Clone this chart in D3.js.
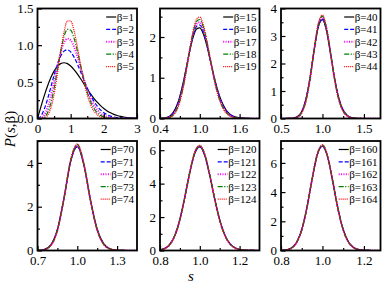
<!DOCTYPE html>
<html>
<head>
<meta charset="utf-8">
<script src="https://cdn.jsdelivr.net/npm/d3@7"></script>
<style>
body { margin: 0; background: #fff; }
svg { display: block; }
text { font-family: "Liberation Serif", "DejaVu Serif", serif; fill: #000; }
</style>
</head>
<body>
<svg id="chart" width="384" height="286"></svg>
<script>
// ---- data ----
var s1 = [0,0.1,0.2,0.3,0.4,0.5,0.6,0.7,0.8,0.9,1.0,1.1,1.2,1.3,1.4,1.5,1.6,1.7,1.8,1.9,2.0,2.1,2.2,2.3,2.4,2.5,2.6,2.7,2.8,2.9,3.0];
var beta1 = [1,2,3,4,5];
var p1 = [
	[0,0.1558,0.3044,0.4391,0.5541,0.6454,0.7103,0.7483,0.7601,0.7483,0.7162,0.6680,0.6083,0.5415,0.4718,0.4025,0.3365,0.2759,0.2220,0.1753,0.1358,0.1033,0.0772,0.0567,0.0409,0.0290,0.0202,0.0138,0.0093,0.0062,0.0040],
	[0,0.0320,0.1233,0.2602,0.4232,0.5896,0.7380,0.8514,0.9187,0.9364,0.9076,0.8406,0.7464,0.6372,0.5240,0.4160,0.3189,0.2365,0.1698,0.1181,0.0797,0.0521,0.0331,0.0204,0.0122,0.0071,0.0040,0.0022,0.0012,0.0006,0.0003],
	[0,0.0061,0.0466,0.1438,0.3013,0.5019,0.7141,0.9012,1.0320,1.0881,1.0669,0.9798,0.8472,0.6925,0.5368,0.3954,0.2775,0.1858,0.1188,0.0727,0.0425,0.0238,0.0128,0.0066,0.0033,0.0016,0.0007,0.0003,0.0001,0,0],
	[0,0.0011,0.0169,0.0766,0.2067,0.4116,0.6654,0.9185,1.1158,1.2164,1.2060,1.0978,0.9237,0.7223,0.5272,0.3605,0.2313,0.1396,0.0795,0.0426,0.0217,0.0104,0.0048,0.0020,0.0008,0.0003,0.0001,0,0,0,0],
	[0,0.0002,0.0060,0.0399,0.1386,0.3299,0.6058,0.9145,1.1783,1.3280,1.3309,1.2002,0.9826,0.7351,0.5053,0.3203,0.1878,0.1023,0.0518,0.0244,0.0108,0.0044,0.0017,0.0006,0.0002,0,0,0,0,0,0]
];

var s2 = [0.4,0.45,0.5,0.55,0.6,0.65,0.7,0.75,0.8,0.85,0.9,0.95,1.0,1.05,1.1,1.15,1.2,1.25,1.3,1.35,1.4,1.45,1.5,1.6,1.7,1.8,1.9];
var beta2 = [15,16,17,18,19];
var p2 = [
	[0.0016,0.0068,0.0228,0.0633,0.1495,0.3059,0.5509,0.8838,1.2759,1.6709,1.9983,2.1949,2.2245,2.0890,1.8239,1.4851,1.1307,0.8068,0.5407,0.3409,0.2026,0.1136,0.0602,0.0143,0.0028,0.0004,0],
	[0.0010,0.0047,0.0171,0.0509,0.1274,0.2738,0.5133,0.8510,1.2607,1.6833,2.0403,2.2586,2.2949,2.1498,1.8635,1.4995,1.1234,0.7854,0.5136,0.3147,0.1810,0.0979,0.0499,0.0108,0.0019,0.0003,0],
	[0.0006,0.0032,0.0128,0.0409,0.1084,0.2446,0.4775,0.8180,1.2434,1.6927,2.0794,2.3199,2.3633,2.2083,1.9004,1.5113,1.1140,0.7631,0.4869,0.2900,0.1615,0.0842,0.0412,0.0082,0.0013,0.0002,0],
	[0.0004,0.0022,0.0096,0.0328,0.0921,0.2182,0.4435,0.7850,1.2244,1.6994,2.1158,2.3790,2.4297,2.2648,1.9350,1.5208,1.1030,0.7403,0.4609,0.2668,0.1438,0.0724,0.0340,0.0062,0.0009,0.0001,0],
	[0.0002,0.0015,0.0072,0.0262,0.0781,0.1943,0.4113,0.7522,1.2039,1.7036,2.1497,2.4361,2.4943,2.3193,1.9673,1.5280,1.0904,0.7171,0.4356,0.2451,0.1279,0.0621,0.0280,0.0047,0.0006,0.0001,0]
];

var s3 = [0.5,0.6,0.65,0.7,0.75,0.8,0.85,0.9,0.95,1.0,1.05,1.1,1.15,1.2,1.25,1.3,1.35,1.4,1.5,1.6,1.7];
var beta3 = [40,41,42,43,44];
var p3 = [
	[0,0.0020,0.0142,0.0700,0.2545,0.7002,1.4886,2.4897,3.3255,3.5924,3.1729,2.3127,1.4024,0.7125,0.3052,0.1108,0.0343,0.0091,0.0004,0,0],
	[0,0.0017,0.0124,0.0640,0.2405,0.6789,1.4715,2.4943,3.3577,3.6365,3.2039,2.3185,1.3894,0.6946,0.2915,0.1033,0.0310,0.0080,0.0003,0,0],
	[0,0.0014,0.0109,0.0585,0.2271,0.6580,1.4541,2.4981,3.3893,3.6800,3.2343,2.3236,1.3762,0.6769,0.2783,0.0962,0.0281,0.0070,0.0003,0,0],
	[0,0.0012,0.0096,0.0534,0.2145,0.6375,1.4365,2.5012,3.4202,3.7230,3.2640,2.3281,1.3626,0.6595,0.2657,0.0896,0.0254,0.0061,0.0002,0,0],
	[0,0.0010,0.0084,0.0488,0.2025,0.6176,1.4188,2.5037,3.4504,3.7655,3.2932,2.3319,1.3489,0.6424,0.2535,0.0834,0.0230,0.0054,0.0002,0,0]
];

var s4 = [0.7,0.75,0.8,0.85,0.9,0.95,1.0,1.05,1.1,1.15,1.2,1.25,1.3,1.35,1.4,1.45];
var beta4 = [70,71,72,73,74];
var p4 = [
	[0.0044,0.0424,0.2531,0.9623,2.4064,4.0641,4.7386,3.8878,2.2814,0.9711,0.3036,0.0705,0.0123,0.0016,0.0002,0],
	[0.0040,0.0399,0.2441,0.9463,2.3984,4.0824,4.7721,3.9056,2.2753,0.9572,0.2944,0.0670,0.0114,0.0015,0.0001,0],
	[0.0036,0.0375,0.2354,0.9305,2.3902,4.1004,4.8053,3.9231,2.2691,0.9434,0.2855,0.0636,0.0105,0.0013,0.0001,0],
	[0.0033,0.0352,0.2270,0.9149,2.3819,4.1181,4.8383,3.9404,2.2626,0.9296,0.2768,0.0604,0.0098,0.0012,0.0001,0],
	[0.0030,0.0331,0.2189,0.8994,2.3733,4.1355,4.8711,3.9573,2.2560,0.9160,0.2684,0.0574,0.0091,0.0011,0.0001,0]
];

var s5 = [0.8,0.825,0.85,0.875,0.9,0.925,0.95,0.975,1.0,1.025,1.05,1.075,1.1,1.125,1.15,1.175,1.2,1.225,1.25,1.3];
var beta5 = [120,121,122,123,124];
var p5 = [
	[0.0383,0.1329,0.3832,0.9242,1.8738,3.2123,4.6780,5.8151,6.1943,5.6781,4.4942,3.0823,1.8372,0.9546,0.4336,0.1726,0.0603,0.0186,0.0050,0.0003],
	[0.0368,0.1291,0.3758,0.9129,1.8622,3.2070,4.6854,5.8355,6.2200,5.6981,4.5017,3.0781,1.8270,0.9443,0.4261,0.1683,0.0583,0.0178,0.0048,0.0002],
	[0.0354,0.1255,0.3685,0.9018,1.8505,3.2016,4.6927,5.8558,6.2455,5.7179,4.5091,3.0738,1.8168,0.9340,0.4188,0.1642,0.0564,0.0170,0.0045,0.0002],
	[0.0340,0.1220,0.3613,0.8908,1.8389,3.1962,4.6998,5.8759,6.2710,5.7376,4.5163,3.0694,1.8067,0.9238,0.4115,0.1601,0.0545,0.0163,0.0043,0.0002],
	[0.0327,0.1185,0.3542,0.8799,1.8273,3.1906,4.7068,5.8960,6.2963,5.7572,4.5234,3.0649,1.7965,0.9137,0.4044,0.1562,0.0527,0.0156,0.0041,0.0002]
];

var s6 = [0.8,0.825,0.85,0.875,0.9,0.925,0.95,0.975,1.0,1.025,1.05,1.075,1.1,1.125,1.15,1.175,1.2,1.225,1.25,1.275];
var beta6 = [160,161,162,163,164];
var p6 = [
	[0.0079,0.0415,0.1709,0.5547,1.4288,2.9426,4.8764,6.5441,7.1486,6.3925,4.7006,2.8557,1.4390,0.6039,0.2118,0.0623,0.0154,0.0032,0.0006,0],
	[0.0076,0.0403,0.1674,0.5474,1.4184,2.9348,4.8791,6.5603,7.1708,6.4084,4.7036,2.8489,1.4296,0.5968,0.2080,0.0607,0.0149,0.0031,0.0005,0],
	[0.0073,0.0391,0.1640,0.5402,1.4082,2.9269,4.8817,6.5764,7.1930,6.4242,4.7065,2.8420,1.4202,0.5897,0.2042,0.0592,0.0144,0.0030,0.0005,0],
	[0.0070,0.0380,0.1606,0.5331,1.3979,2.9190,4.8843,6.5924,7.2151,6.4399,4.7094,2.8351,1.4108,0.5827,0.2005,0.0577,0.0139,0.0028,0.0005,0],
	[0.0067,0.0369,0.1573,0.5260,1.3877,2.9111,4.8868,6.6084,7.2371,6.4556,4.7122,2.8282,1.4015,0.5757,0.1968,0.0562,0.0134,0.0027,0.0005,0]
];

// axis ranges and tick labels
var xDomains = [[0,3],[0.4,1.9],[0.5,1.7],[0.7,1.45],[0.8,1.3],[0.8,1.28]];
var yDomains = [[0,1.5],[0,2.7],[0,4],[0,5],[0,6.55],[0,7.5]];
var xTicks = [[0,1,2,3],[0.4,1.0,1.6],[0.5,1.0,1.5],[0.7,1.0,1.3],[0.8,1.0,1.2],[0.8,1.0,1.2]];
var xMinor = [[0.5,1.5,2.5],[0.7,1.3],[0.75,1.25],[0.85,1.15],[0.9,1.1],[0.9,1.1]];
var yTicks = [[0,0.5,1.0,1.5],[0,1,2],[0,1,2,3,4],[0,2,4],[0,2,4,6],[0,2,4,6]];
var yMinor = [[0.25,0.75,1.25],[0.5,1.5,2.5],[0.5,1.5,2.5,3.5],[1,3,5],[1,3,5],[1,3,5,7]];
var xFormats = ["d",".1f",".1f",".1f",".1f",".1f"];
var yFormats = [".1f","d","d","d","d","d"];

// ---- drawing ----
var svg = d3.select("#chart");
var colLeft = [37.5, 160, 281];
var panelW = 99.5;
var rowBox = [[8.5, 118.5], [141, 250.5]];
var seriesColor = ["#000000", "#0000ff", "#ff00ff", "#008000", "#ff0000"];
var seriesDash = [null, "4,2", "1,1.4", "5,1.5,1.2,1.5", "1,1"];
var seriesWidth = [1.2, 1.2, 1.9, 1.2, 1.2];

var panelS = [s1, s2, s3, s4, s5, s6];
var panelP = [p1, p2, p3, p4, p5, p6];
var panelBeta = [beta1, beta2, beta3, beta4, beta5, beta6];

panelS.forEach(function(sArr, k) {
	var left = colLeft[k % 3];
	var top = rowBox[(k / 3) | 0][0];
	var bottom = rowBox[(k / 3) | 0][1];
	var x = d3.scaleLinear().domain(xDomains[k]).range([left, left + panelW]);
	var y = d3.scaleLinear().domain(yDomains[k]).range([bottom, top]);
	var g = svg.append("g");

	var clipId = "clip" + k;
	g.append("clipPath").attr("id", clipId).append("rect")
			.attr("x", left).attr("y", top).attr("width", panelW).attr("height", bottom - top);

	var line = d3.line()
			.x(function(d) { return x(d[0]); })
			.y(function(d) { return y(d[1]); })
			.curve(d3.curveMonotoneX);

	panelP[k].forEach(function(vals, i) {
		var pts = sArr.map(function(s, j) { return [s, vals[j]]; });
		g.append("path").attr("clip-path", "url(#" + clipId + ")")
				.attr("d", line(pts)).attr("fill", "none")
				.attr("stroke", seriesColor[i]).attr("stroke-width", seriesWidth[i])
				.attr("stroke-dasharray", seriesDash[i]);
	});

	// ticks (inside)
	g.append("g").attr("transform", "translate(0," + bottom + ")")
			.call(d3.axisBottom(x).tickValues(xTicks[k]).tickSize(-4.5).tickPadding(5.5)
					.tickFormat(d3.format(xFormats[k])));
	g.append("g").attr("transform", "translate(0," + bottom + ")")
			.call(d3.axisBottom(x).tickValues(xMinor[k]).tickSize(-2.5).tickFormat(""));
	g.append("g").attr("transform", "translate(" + left + ",0)")
			.call(d3.axisLeft(y).tickValues(yTicks[k]).tickSize(-4.5).tickPadding(4)
					.tickFormat(d3.format(yFormats[k])));
	g.append("g").attr("transform", "translate(" + left + ",0)")
			.call(d3.axisLeft(y).tickValues(yMinor[k]).tickSize(-2.5).tickFormat(""));
	g.selectAll(".domain").remove();
	g.selectAll(".tick line").attr("stroke", "#000").attr("stroke-width", 1.2);
	g.selectAll(".tick text").attr("font-family", "'Liberation Serif', serif")
			.attr("font-size", 13).attr("fill", "#000");

	g.append("rect").attr("x", left).attr("y", top).attr("width", panelW)
			.attr("height", bottom - top).attr("fill", "none")
			.attr("stroke", "#000").attr("stroke-width", 1.8);

	// legend, right aligned
	var leg = g.append("g");
	panelBeta[k].forEach(function(b, i) {
		var ly = top + 8.5 + i * 12.4;
		var t = leg.append("text").attr("x", left + panelW - 3).attr("y", ly)
				.attr("dy", "0.35em").attr("text-anchor", "end")
				.attr("font-size", 11).text("\u03b2=" + b);
		var tw = t.node().getComputedTextLength();
		var x1 = left + panelW - 3 - tw - 0.5;
		leg.append("line").attr("x1", x1 - 10).attr("x2", x1)
				.attr("y1", ly).attr("y2", ly)
				.attr("stroke", seriesColor[i]).attr("stroke-width", seriesWidth[i])
				.attr("stroke-dasharray", seriesDash[i]);
	});
});

// axis titles
var yl = svg.append("text").attr("transform", "translate(15,129) rotate(-90)")
		.attr("text-anchor", "middle").attr("font-size", 15);
yl.append("tspan").attr("font-style", "italic").text("P");
yl.append("tspan").text("(");
yl.append("tspan").attr("font-style", "italic").text("s");
yl.append("tspan").text(",\u03b2)");

svg.append("text").attr("x", 191).attr("y", 281).attr("text-anchor", "middle")
		.attr("font-size", 15).attr("font-style", "italic").text("s");
</script>
</body>
</html>
